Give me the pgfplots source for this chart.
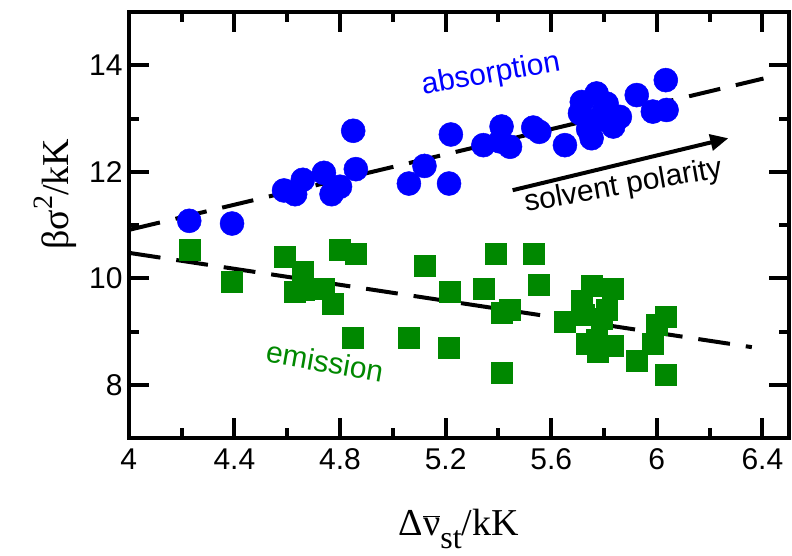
\documentclass[border=0pt]{standalone}
\usepackage{pgfplots}
\pgfplotsset{compat=1.18}
\usetikzlibrary{arrows.meta}
\usepackage{fontspec}
\setmainfont{Liberation Sans}
\newfontfamily\serif{Liberation Serif}
\definecolor{myblue}{RGB}{0,0,255}
\definecolor{mygreen}{RGB}{0,136,0}
\begin{document}
\begin{tikzpicture}
\begin{axis}[
  name=main,
  scale only axis,
  width=660pt, height=426.4pt,
  xmin=4, xmax=6.5, ymin=7, ymax=15,
  every axis/.append style={line width=4pt},
  axis line style={line width=4pt},
  xtick={4,4.4,4.8,5.2,5.6,6,6.4},
  minor xtick={4.2,4.6,5,5.4,5.8,6.2},
  ytick={8,10,12,14},
  minor ytick={9,11,13},
  tick align=inside,
  major tick length=20pt, minor tick length=10pt,
  tick style={line width=4pt, black},
  /pgf/number format/assume math mode=true,
  tick label style={font=\fontsize{30}{32}\selectfont},
  xticklabel style={yshift=-5pt},
  yticklabel style={xshift=-1pt},
  xlabel={{\serif\fontsize{38}{40}\selectfont Δ$\overline{\hbox{ν}}$\raisebox{-13pt}{\fontsize{32}{34}\selectfont st}/kK}},
  xlabel style={at={(axis description cs:0.5,-0.228)}, anchor=base},
  ylabel={{\serif\fontsize{38}{40}\selectfont βσ\raisebox{16pt}{\fontsize{28}{30}\selectfont 2}/kK}},
  ylabel style={at={(axis description cs:-0.092,0.573)}, anchor=base},
]
\addplot[only marks, mark=*, mark size=12pt, color=myblue, line width=0.5pt] coordinates {
(4.229,11.08) (4.391,11.03) (4.588,11.65) (4.630,11.58) (4.659,11.85)
(4.739,11.98) (4.800,11.72) (4.768,11.58) (4.850,12.77) (4.860,12.05)
(5.061,11.78) (5.120,12.11) (5.220,12.70) (5.213,11.78) (5.343,12.50)
(5.412,12.85) (5.406,12.57) (5.444,12.47) (5.532,12.83) (5.555,12.75)
(5.652,12.50) (5.716,13.31) (5.772,13.47) (5.810,13.28) (5.709,13.10)
(5.835,12.85) (5.753,12.63) (5.860,13.03) (5.772,12.97) (5.800,13.15)
(5.740,12.80) (5.924,13.44) (6.034,13.72) (5.985,13.13) (6.037,13.16)
};
\addplot[only marks, mark=square*, mark size=10.5pt, color=mygreen, line width=0.5pt] coordinates {
(4.229,10.53) (4.390,9.94) (4.592,10.41) (4.659,10.13) (4.630,9.75)
(4.661,9.78) (4.739,9.81) (4.771,9.53) (4.800,10.53) (4.861,10.47)
(4.850,8.89) (5.061,8.89) (5.122,10.23) (5.214,9.75) (5.213,8.69)
(5.343,9.81) (5.391,10.47) (5.532,10.47) (5.551,9.88) (5.444,9.41)
(5.412,9.35) (5.412,8.23) (5.652,9.18) (5.753,9.86) (5.833,9.81)
(5.716,9.58) (5.722,9.31) (5.810,9.41) (5.790,9.25) (5.734,8.78)
(5.778,8.62) (5.833,8.73) (5.772,8.84) (5.924,8.46) (5.985,8.78)
(6.000,9.13) (6.034,9.28) (6.034,8.19)
};
\addplot[black, line width=4pt, dash pattern=on 32pt off 16pt] coordinates {(4,10.91) (6.404,13.75)};
\addplot[black, line width=4pt, dash pattern=on 32pt off 16pt] coordinates {(4,10.48) (6.36,8.71)};
\draw[line width=4pt, -{Triangle[length=18pt,width=16pt]}] (axis cs:5.454,11.655) -- (axis cs:6.271,12.63);
\node[rotate=10, text=myblue, font=\fontsize{30}{32}\selectfont] at (axis cs:5.372,13.82) {absorption};
\node[rotate=-10, text=mygreen, font=\fontsize{30}{32}\selectfont] at (axis cs:4.743,8.437) {emission};
\node[rotate=10, font=\fontsize{30}{32}\selectfont] at (axis cs:5.873,11.72) {solvent polarity};
\end{axis}
\pgfresetboundingbox
\path ([xshift=-128.8pt,yshift=-116.7pt]main.south west) rectangle ++(792pt,555pt);
\end{tikzpicture}
\end{document}
